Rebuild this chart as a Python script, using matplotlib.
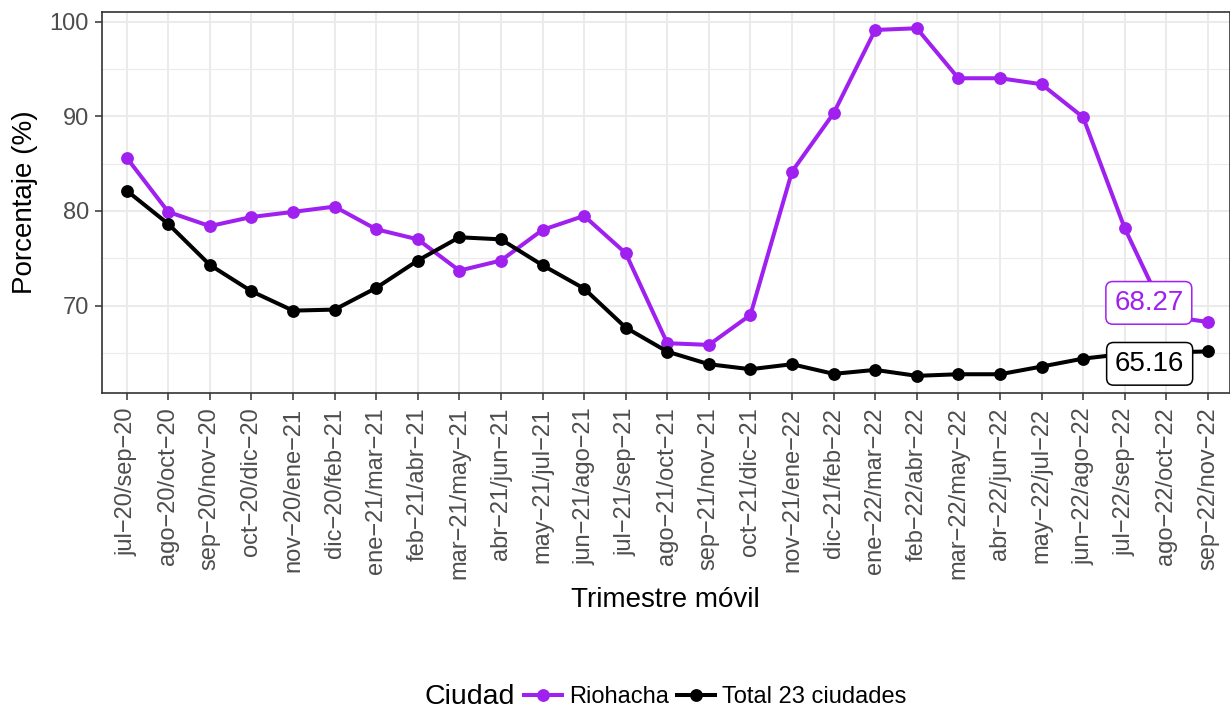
import numpy as np
import matplotlib as mpl
mpl.use('Agg')
import matplotlib.pyplot as plt
from matplotlib.ticker import MultipleLocator

plt.rcParams['font.family'] = ['Liberation Sans', 'DejaVu Sans']

# trimestres moviles (R draws the hyphen as a minus sign)
periodos = ['jul-20/sep-20', 'ago-20/oct-20', 'sep-20/nov-20', 'oct-20/dic-20',
            'nov-20/ene-21', 'dic-20/feb-21', 'ene-21/mar-21', 'feb-21/abr-21',
            'mar-21/may-21', 'abr-21/jun-21', 'may-21/jul-21', 'jun-21/ago-21',
            'jul-21/sep-21', 'ago-21/oct-21', 'sep-21/nov-21', 'oct-21/dic-21',
            'nov-21/ene-22', 'dic-21/feb-22', 'ene-22/mar-22', 'feb-22/abr-22',
            'mar-22/may-22', 'abr-22/jun-22', 'may-22/jul-22', 'jun-22/ago-22',
            'jul-22/sep-22', 'ago-22/oct-22', 'sep-22/nov-22']
tick_labels = [p.replace('-', '\u2212') for p in periodos]

riohacha = [85.63, 79.90, 78.40, 79.36, 79.90, 80.46, 78.07, 77.00, 73.70,
            74.76, 78.00, 79.48, 75.54, 66.03, 65.85, 69.02, 84.16, 90.32,
            99.12, 99.30, 94.02, 94.02, 93.39, 89.90, 78.18, 68.90, 68.27]
total_23 = [82.15, 78.63, 74.30, 71.52, 69.47, 69.58, 71.87, 74.76, 77.22,
            77.00, 74.27, 71.80, 67.68, 65.14, 63.81, 63.28, 63.81, 62.79,
            63.21, 62.58, 62.75, 62.75, 63.56, 64.40, 64.90, 65.05, 65.16]

ultimo_rio = '68.27'
ultimo_tot = '65.16'

purple = '#A020F0'
W, H = 1230, 709
fig = plt.figure(figsize=(W / 100, H / 100), dpi=100)
ax = fig.add_axes([101.7 / W, 1 - 392.7 / H, (1229.5 - 101.7) / W, (392.7 - 11.7) / H])

x = np.arange(len(periodos))
l1, = ax.plot(x, riohacha, color=purple, lw=2.9, marker='o', ms=8.2, label='Riohacha', zorder=3)
l2, = ax.plot(x, total_23, color='black', lw=2.9, marker='o', ms=8.2, label='Total 23 ciudades', zorder=3)

# repel-style labels for the last value
ax.text(24.58, 70.29, ultimo_rio, color=purple, fontsize=20, ha='center', va='center', zorder=5,
        bbox=dict(boxstyle='round,pad=0.3,rounding_size=0.25', fc='white', ec=purple, lw=1.1))
ax.text(24.6, 63.85, ultimo_tot, color='black', fontsize=20, ha='center', va='center', zorder=5,
        bbox=dict(boxstyle='round,pad=0.3,rounding_size=0.25', fc='white', ec='black', lw=1.1))

ax.set_xlim(-0.6, 26.52)
ax.set_ylim(60.8, 101.05)
ax.set_xticks(x)
ax.set_xticklabels(tick_labels, rotation=90, ha='center', va='top')
ax.yaxis.set_major_locator(MultipleLocator(10))
ax.yaxis.set_minor_locator(MultipleLocator(5))

ax.grid(which='major', color='#EBEBEB', lw=1.5)
ax.grid(which='minor', axis='y', color='#EBEBEB', lw=0.8)
ax.set_axisbelow(True)
for s in ax.spines.values():
    s.set_color('#333333')
    s.set_linewidth(1.2)
ax.tick_params(which='major', length=5.2, width=1.1, color='#333333', labelcolor='#4D4D4D',
               labelsize=17)
ax.tick_params(axis='x', pad=5.5)
ax.tick_params(axis='y', pad=4)
ax.tick_params(which='minor', length=0)

fig.text(665.6 / W, 1 - 600 / H, 'Trimestre m\u00f3vil', fontsize=20, ha='center', va='center')
fig.text(24.5 / W, 1 - 202 / H, 'Porcentaje (%)', fontsize=20, rotation=90, ha='center', va='center')

# legend at the bottom, title on the left
fig.text(425 / W, 1 - 697 / H, 'Ciudad', fontsize=20.5, ha='left', va='center')
fig.legend(handles=[l1, l2], loc='center left', bbox_to_anchor=(524 / W, 1 - 697 / H),
           ncol=2, frameon=False, fontsize=17, handlelength=1.6, handletextpad=0.3,
           columnspacing=0.35, borderpad=0, borderaxespad=0)

plt.savefig('out.png', dpi=100)
plt.close(fig='all')
